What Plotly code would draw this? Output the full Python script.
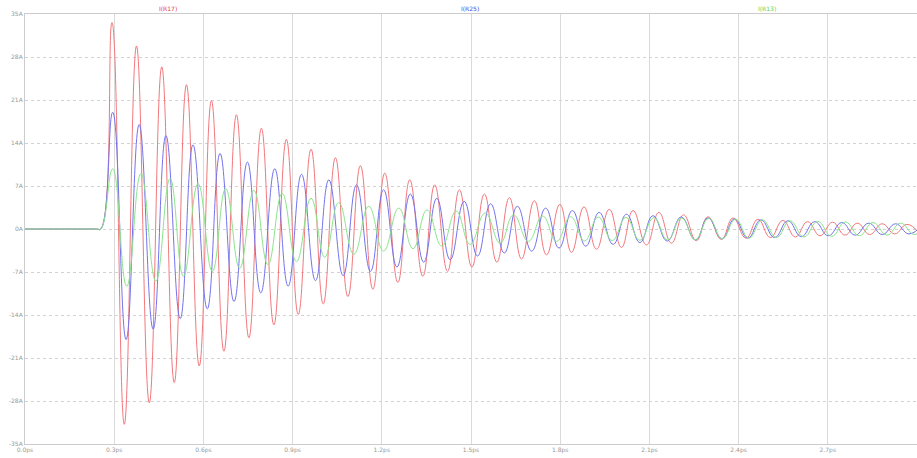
import plotly.graph_objects as go

# ---- data: extrema (time in ps, current in A) ----
red_t = [0.0, 0.24, 0.255, 0.2926, 0.334, 0.375, 0.418, 0.460, 0.502, 0.543, 0.586, 0.627, 0.669,
         0.711, 0.753, 0.795, 0.837, 0.879, 0.919, 0.962, 1.003, 1.044, 1.086, 1.128, 1.170,
         1.210, 1.254, 1.294, 1.338, 1.378, 1.421, 1.461, 1.503, 1.545, 1.587, 1.629, 1.670,
         1.713, 1.754, 1.799, 1.838, 1.880, 1.922, 1.965, 2.006, 2.045, 2.090, 2.132, 2.174,
         2.215, 2.258, 2.297, 2.342, 2.381, 2.425, 2.465, 2.507, 2.549, 2.591, 2.632, 2.674,
         2.716, 2.758, 2.799, 2.841, 2.883, 2.925, 2.966, 3.008]
red_v = [0, 0, 0, 33.6, -31.8, 29.8, -28.3, 26.4, -25.0, 23.5, -22.3, 20.9, -19.9,
         18.6, -17.7, 16.4, -15.6, 14.6, -13.9, 13.0, -12.2, 11.6, -11.0, 10.3, -9.8,
         9.1, -8.7, 8.0, -7.7, 7.2, -6.9, 6.4, -6.2, 5.7, -5.4, 5.1, -4.9,
         4.6, -4.2, 4.0, -3.8, 3.6, -3.3, 3.2, -3.0, 3.0, -2.6, 2.7, -2.3,
         2.3, -1.9, 2.0, -1.7, 1.8, -1.5, 1.6, -1.4, 1.4, -1.3, 1.2, -1.1,
         1.1, -1.0, 0.95, -0.9, 0.85, -0.8, 0.75, -0.7]

blue_t = [0.0, 0.24, 0.255, 0.295, 0.340, 0.384, 0.431, 0.474, 0.522, 0.565, 0.613, 0.656, 0.703,
          0.748, 0.793, 0.840, 0.885, 0.930, 0.977, 1.022, 1.070, 1.115, 1.162, 1.206, 1.251,
          1.296, 1.341, 1.385, 1.430, 1.477, 1.522, 1.566, 1.612, 1.656, 1.704, 1.751, 1.796,
          1.841, 1.886, 1.931, 1.978, 2.023, 2.068, 2.112, 2.160, 2.207, 2.255, 2.297, 2.345,
          2.386, 2.431, 2.475, 2.521, 2.566, 2.611, 2.656, 2.702, 2.747, 2.792, 2.838, 2.883,
          2.928, 2.973, 3.018]
blue_v = [0, 0, 0, 19.0, -18.0, 17.0, -16.3, 15.2, -14.6, 13.7, -13.0, 12.3, -11.8,
          10.9, -10.4, 9.8, -9.3, 8.9, -8.4, 8.0, -7.6, 7.2, -6.9, 6.4, -6.2,
          5.7, -5.4, 5.0, -5.0, 4.5, -4.4, 4.1, -3.9, 3.7, -3.6, 3.4, -3.1,
          3.0, -2.8, 2.7, -2.5, 2.4, -2.2, 2.15, -1.95, 1.95, -1.8, 1.8, -1.6,
          1.65, -1.5, 1.5, -1.4, 1.35, -1.25, 1.2, -1.1, 1.05, -1.0, 0.95, -0.9,
          0.85, -0.8, 0.75]

green_t = [0.0, 0.24, 0.255, 0.295, 0.342, 0.390, 0.440, 0.488, 0.533, 0.582, 0.630, 0.675, 0.722,
           0.770, 0.817, 0.865, 0.913, 0.962, 1.008, 1.055, 1.106, 1.156, 1.206, 1.257, 1.305,
           1.352, 1.402, 1.450, 1.497, 1.548, 1.598, 1.643, 1.693, 1.741, 1.788, 1.835, 1.882,
           1.928, 1.975, 2.021, 2.068, 2.115, 2.161, 2.208, 2.254, 2.300, 2.345, 2.390, 2.435,
           2.480, 2.527, 2.573, 2.620, 2.666, 2.713, 2.759, 2.806, 2.852, 2.899, 2.945, 2.992,
           3.038]
green_v = [0, 0, 0, 9.8, -9.3, 9.0, -8.5, 8.2, -7.7, 7.4, -6.9, 6.6, -6.4,
           6.3, -5.8, 5.8, -5.3, 5.0, -4.6, 4.3, -4.1, 3.7, -3.6, 3.4, -3.2,
           3.1, -2.8, 2.9, -2.5, 2.6, -2.3, 2.3, -2.0, 2.1, -2.0, 2.0, -1.95,
           1.95, -1.9, 1.9, -1.85, 1.85, -1.8, 1.8, -1.75, 1.75, -1.6, 1.6, -1.5,
           1.5, -1.4, 1.35, -1.3, 1.25, -1.2, 1.15, -1.1, 1.05, -1.0, 0.95, -0.9,
           0.85]

series_names = ["I(R17)", "I(R25)", "I(R13)"]
series_colors = ["rgb(242,120,125)", "rgb(115,115,238)", "rgb(140,228,140)"]
label_colors = ["rgb(230,60,70)", "rgb(70,70,230)", "rgb(90,215,90)"]
label_pos = [0.160, 0.499, 0.832]

x_tickvals = [0.0, 0.3, 0.6, 0.9, 1.2, 1.5, 1.8, 2.1, 2.4, 2.7, 3.0]
x_ticktext = ["0.0ps", "0.3ps", "0.6ps", "0.9ps", "1.2ps", "1.5ps", "1.8ps", "2.1ps", "2.4ps", "2.7ps", "3.0ps"]
y_tickvals = [35, 28, 21, 14, 7, 0, -7, -14, -21, -28, -35]
y_ticktext = ["35A", "28A", "21A", "14A", "7A", "0A", "-7A", "-14A", "-21A", "-28A", "-35A"]

fig = go.Figure()
for t, v, name, col in [(red_t, red_v, series_names[0], series_colors[0]),
                        (blue_t, blue_v, series_names[1], series_colors[1]),
                        (green_t, green_v, series_names[2], series_colors[2])]:
    fig.add_trace(go.Scatter(x=t, y=v, mode="lines", name=name,
                             line=dict(color=col, width=1, shape="spline", smoothing=1.3)))

for name, col, px in zip(series_names, label_colors, label_pos):
    fig.add_annotation(text=name, x=px, y=1, xref="paper", yref="paper",
                       xanchor="center", yanchor="bottom", yshift=0, showarrow=False,
                       font=dict(size=6, color=col, family="DejaVu Sans"))

fig.update_layout(
    width=917, height=458,
    margin=dict(l=25, r=0, t=14, b=14),
    paper_bgcolor="white", plot_bgcolor="white",
    showlegend=False,
    font=dict(family="DejaVu Sans", size=6, color="#999999"),
)
fig.update_xaxes(range=[0, 3.0], tickvals=x_tickvals, ticktext=x_ticktext,
                 showgrid=True, gridcolor="#dadada", gridwidth=1,
                 showline=True, linecolor="#cccccc", mirror=True,
                 zeroline=False, ticks="", tickfont=dict(size=6, color="#999999"))
fig.update_yaxes(range=[-35, 35], tickvals=y_tickvals, ticktext=y_ticktext,
                 showgrid=True, gridcolor="#d2d2d2", gridwidth=1, griddash="dot",
                 showline=True, linecolor="#cccccc", mirror=True,
                 zeroline=False, ticks="", tickfont=dict(size=6, color="#999999"))

fig.write_html("out.html")
